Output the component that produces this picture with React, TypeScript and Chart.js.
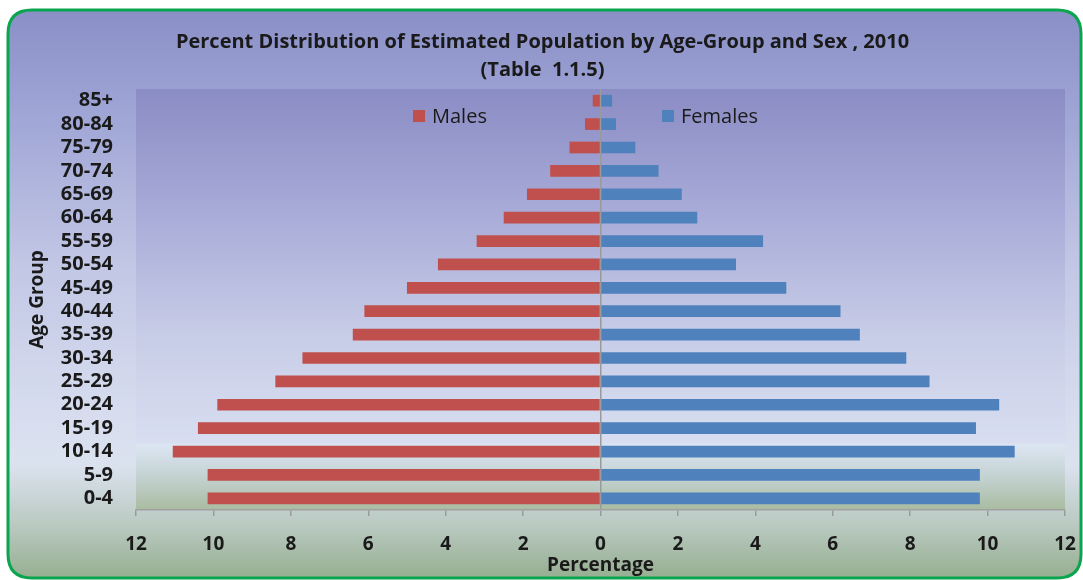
import { useEffect, useRef } from 'react';
import { Chart, registerables } from 'chart.js';

Chart.register(...registerables);

const ageGroups = ['85+', '80-84', '75-79', '70-74', '65-69', '60-64', '55-59', '50-54', '45-49', '40-44', '35-39', '30-34', '25-29', '20-24', '15-19', '10-14', '5-9', '0-4'];
const malesPct = [0.2, 0.4, 0.8, 1.3, 1.9, 2.5, 3.2, 4.2, 5.0, 6.1, 6.4, 7.7, 8.4, 9.9, 10.4, 11.05, 10.15, 10.15];
const femalesPct = [0.3, 0.4, 0.9, 1.5, 2.1, 2.5, 4.2, 3.5, 4.8, 6.2, 6.7, 7.9, 8.5, 10.3, 9.7, 10.7, 9.8, 9.8];
const seriesNames = ['Males', 'Females'];
const titleLines = ['Percent Distribution of Estimated Population by Age-Group and Sex , 2010', '(Table  1.1.5)'];
const xTitle = 'Percentage';
const yTitle = 'Age Group';

const FONT = '"Open Sans", Lato, sans-serif';
const RED = '#c0504d';
const BLUE = '#4f81bd';

const backgroundPlugin = {
  id: 'panelBackground',
  beforeDraw(chart: any) {
    const { ctx, width, height, chartArea } = chart;
    ctx.save();
    const x = 8, y = 10, w = width - 10, h = height - 12, r = 24;
    const g = ctx.createLinearGradient(0, y, 0, y + h);
    g.addColorStop(0, '#8a8fc6');
    g.addColorStop(0.15, '#9ba1d3');
    g.addColorStop(0.45, '#c2c7e5');
    g.addColorStop(0.7, '#d6dcee');
    g.addColorStop(0.8, '#dbe2ef');
    g.addColorStop(0.9, '#bccbc4');
    g.addColorStop(1, '#96af91');
    ctx.beginPath();
    ctx.moveTo(x + r, y);
    ctx.lineTo(x + w - r, y);
    ctx.quadraticCurveTo(x + w, y, x + w, y + r);
    ctx.lineTo(x + w, y + h - r);
    ctx.quadraticCurveTo(x + w, y + h, x + w - r, y + h);
    ctx.lineTo(x + r, y + h);
    ctx.quadraticCurveTo(x, y + h, x, y + h - r);
    ctx.lineTo(x, y + r);
    ctx.quadraticCurveTo(x, y, x + r, y);
    ctx.closePath();
    ctx.fillStyle = g;
    ctx.fill();
    ctx.lineWidth = 3;
    ctx.strokeStyle = '#0aa64f';
    ctx.stroke();

    const { left, top, right, bottom } = chartArea;
    const pg = ctx.createLinearGradient(0, top, 0, bottom);
    pg.addColorStop(0, '#8a8cc4');
    pg.addColorStop(0.3, '#a9acd8');
    pg.addColorStop(0.6, '#c9cee8');
    pg.addColorStop(0.84, '#d8def0');
    pg.addColorStop(0.845, '#dce6f3');
    pg.addColorStop(0.92, '#c4d2d2');
    pg.addColorStop(1, '#a9bca0');
    ctx.fillStyle = pg;
    ctx.fillRect(left, top, right - left, bottom - top);
    ctx.restore();
  },
};

const legendPlugin = {
  id: 'insideLegend',
  afterDraw(chart: any) {
    const { ctx, chartArea } = chart;
    const cy = chartArea.top + 27;
    const items = [
      { x: chartArea.left + 277, color: chart.data.datasets[0].backgroundColor, label: chart.data.datasets[0].label },
      { x: chartArea.left + 526, color: chart.data.datasets[1].backgroundColor, label: chart.data.datasets[1].label },
    ];
    ctx.save();
    ctx.font = `20px ${FONT}`;
    ctx.textBaseline = 'middle';
    ctx.textAlign = 'left';
    for (const it of items) {
      ctx.fillStyle = it.color;
      ctx.fillRect(it.x, cy - 6, 12, 12);
      ctx.fillStyle = '#1a1a1a';
      ctx.fillText(it.label, it.x + 19, cy + 1);
    }
    ctx.restore();
  },
};

export default function App() {
  const ref = useRef<HTMLCanvasElement | null>(null);

  useEffect(() => {
    if (!ref.current) return;
    const chart = new Chart(ref.current, {
      type: 'bar',
      data: {
        labels: ageGroups,
        datasets: [
          {
            label: seriesNames[0],
            data: malesPct.map((v) => -v),
            backgroundColor: RED,
            barPercentage: 0.5,
            categoryPercentage: 1,
          },
          {
            label: seriesNames[1],
            data: femalesPct,
            backgroundColor: BLUE,
            barPercentage: 0.5,
            categoryPercentage: 1,
          },
        ],
      },
      options: {
        indexAxis: 'y',
        animation: false,
        responsive: false,
        maintainAspectRatio: false,
        layout: { padding: { left: 20, right: 18, top: 28, bottom: 3 } },
        plugins: {
          legend: { display: false },
          tooltip: { enabled: false },
          title: {
            display: true,
            text: titleLines,
            color: '#1a1a1a',
            font: { family: FONT, size: 20, weight: 'bold', lineHeight: 1.4 },
            padding: { top: 0, bottom: 5 },
          },
        },
        scales: {
          x: {
            stacked: true,
            min: -12,
            max: 12,
            ticks: {
              stepSize: 2,
              color: '#1a1a1a',
              font: { family: FONT, size: 19, weight: 'bold' },
              padding: 17,
              callback: (v: any) => String(Math.abs(Number(v))),
            },
            grid: {
              display: true,
              drawOnChartArea: true,
              color: (c: any) => (c.tick && c.tick.value === 0 ? '#9a9a9a' : 'rgba(0,0,0,0)'),
              tickColor: '#9a9a9a',
              tickLength: 6,
              lineWidth: 1.5,
            },
            border: { display: true, color: '#a0a0a0', width: 1.5 },
            title: {
              display: true,
              text: xTitle,
              color: '#1a1a1a',
              font: { family: FONT, size: 19, weight: 'bold' },
              padding: { top: 0, bottom: 0 },
            },
            afterFit: (s: any) => {
              s.height = 67;
              s.paddingRight = 0;
              s.paddingLeft = 0;
            },
          },
          y: {
            stacked: true,
            ticks: {
              color: '#1a1a1a',
              font: { family: FONT, size: 20, weight: 'bold' },
              padding: 23,
              autoSkip: false,
            },
            grid: { display: false, drawTicks: false },
            border: { display: false },
            title: {
              display: true,
              text: yTitle,
              color: '#1a1a1a',
              font: { family: FONT, size: 19, weight: 'bold' },
              padding: { top: 6, bottom: 0 },
            },
            afterFit: (s: any) => {
              s.width = 116;
            },
          },
        },
      },
      plugins: [backgroundPlugin, legendPlugin],
    });
    return () => chart.destroy();
  }, []);

  return (
    <div style={{ position: 'fixed', left: 0, top: 0, width: 1083, height: 580, background: '#fff' }}>
      <canvas ref={ref} width={1083} height={580} style={{ display: 'block', width: 1083, height: 580 }} />
    </div>
  );
}
